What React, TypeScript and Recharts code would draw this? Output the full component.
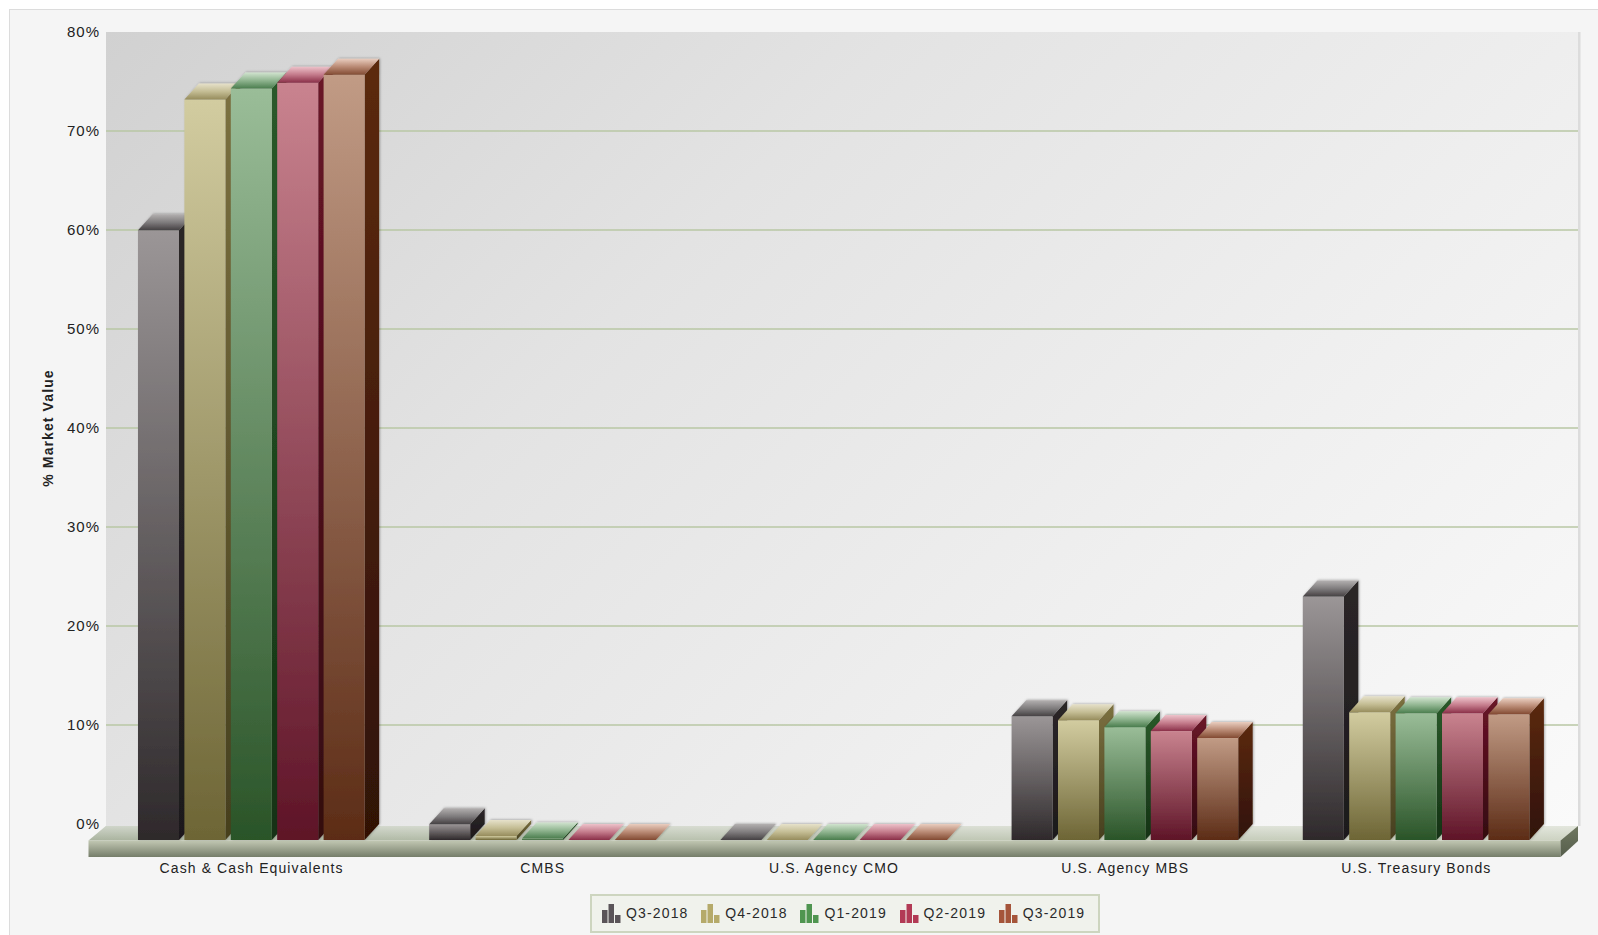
import { ComposedChart, Bar, XAxis, YAxis, CartesianGrid, Legend, usePlotArea } from "recharts";

const CATEGORIES = ["Cash & Cash Equivalents", "CMBS", "U.S. Agency CMO", "U.S. Agency MBS", "U.S. Treasury Bonds"];
const Q3_2018 = [61.6, 1.6, 0, 12.5, 24.6];
const Q4_2018 = [74.8, 0.4, 0, 12.1, 12.9];
const Q1_2019 = [75.9, 0.15, 0, 11.4, 12.8];
const Q2_2019 = [76.5, 0, 0, 11.0, 12.8];
const Q3_2019 = [77.3, 0, 0, 10.3, 12.7];
const Y_TICKS = [0, 10, 20, 30, 40, 50, 60, 70, 80];
const GRID_VALUES = [10, 20, 30, 40, 50, 60, 70];

const chartData = CATEGORIES.map((name, i) => ({
  name,
  q318: Q3_2018[i],
  q418: Q4_2018[i],
  q119: Q1_2019[i],
  q219: Q2_2019[i],
  q319: Q3_2019[i],
}));

// front top/bottom, side top/bottom, roof near/mid/far
const SERIES = [
  { key: "q318", name: "Q3-2018", icon: "#5a5458", id: "a", front: ["#9b9697", "#2e292b"], side: ["#2b2628", "#1d191b"], roof: ["#454143", "#807d7e", "#b3b0b0"] },
  { key: "q418", name: "Q4-2018", icon: "#b5aa6a", id: "b", front: ["#d2cca0", "#6d6535"], side: ["#7c7140", "#463f1e"], roof: ["#968c5c", "#c4bd94", "#e6e1ca"] },
  { key: "q119", name: "Q1-2019", icon: "#4f9550", id: "c", front: ["#9abd98", "#2a5428"], side: ["#2a5a2a", "#143214"], roof: ["#4a7d4d", "#8fb48f", "#d0e3ce"] },
  { key: "q219", name: "Q2-2019", icon: "#b23a55", id: "d", front: ["#c9838f", "#5e1427"], side: ["#6a1428", "#33070f"], roof: ["#8a2f48", "#c47b8b", "#edc2ca"] },
  { key: "q319", name: "Q3-2019", icon: "#a5553a", id: "e", front: ["#c19b85", "#5c2c16"], side: ["#5c2a10", "#301106"], roof: ["#824a32", "#b98a74", "#e9cdbf"] },
];

const FONT = "'Liberation Sans', Arial, sans-serif";
const DEPTH_X = 14.5;
const DEPTH_Y = 16;

function Gradient({ id, colors }: { id: string; colors: string[] }) {
  return (
    <linearGradient id={id} x1="0" y1="0" x2="0" y2="1">
      <stop offset="0%" stopColor={colors[0]} />
      <stop offset="100%" stopColor={colors[1]} />
    </linearGradient>
  );
}

// the axis scale sits on the back wall, so the front face hangs one depth step below it
function Box3D(props: any) {
  const { x, y, width, height, sid } = props;
  const top = y + DEPTH_Y;
  const base = y + height + DEPTH_Y;
  const r = x + width;
  return (
    <g filter="url(#boxShadow)">
      <polygon
        points={`${r},${top} ${r + DEPTH_X},${top - DEPTH_Y} ${r + DEPTH_X},${base - DEPTH_Y} ${r},${base}`}
        fill={`url(#side-${sid})`}
      />
      <rect x={x} y={top} width={width} height={Math.max(base - top, 0)} fill={`url(#front-${sid})`} />
      <polygon
        points={`${x},${top} ${x + DEPTH_X},${top - DEPTH_Y} ${r + DEPTH_X},${top - DEPTH_Y} ${r},${top}`}
        fill={`url(#roof-${sid})`}
      />
    </g>
  );
}

function Floor() {
  const plot = usePlotArea();
  if (!plot) return null;
  const left = plot.x;
  const right = plot.x + plot.width;
  const wallBottom = plot.y + plot.height;
  const back = wallBottom + 2;
  const front = wallBottom + 16.5;
  const under = front + 16.5;
  const dx = 17.5;
  const topFace = `${left - dx},${front} ${left},${back} ${right},${back} ${right - dx},${front}`;
  return (
    <g>
      <rect x={right} y={plot.y} width={2.5} height={plot.height + 2} fill="#dcdcdc" />
      {/* wall runs on behind the floor's back edge */}
      <rect x={left} y={wallBottom - 1} width={plot.width} height={4} fill="url(#wall)" />
      <polygon points={topFace} fill="url(#floorTop)" />
      <polygon points={topFace} fill="url(#floorTopShade)" />
      <rect x={left - dx} y={front} width={right - left} height={under - front} fill="url(#floorFront)" />
      <polygon points={`${right - dx},${front} ${right},${back} ${right},${back + 15} ${right - dx},${under}`} fill="url(#floorSide)" />
    </g>
  );
}

function LegendIcon({ color }: { color: string }) {
  return (
    <svg width="19" height="19" style={{ display: "block" }}>
      <rect x="0" y="6" width="5.5" height="13" fill={color} />
      <rect x="6.5" y="0" width="5.5" height="19" fill={color} />
      <rect x="13" y="11" width="5.5" height="8" fill={color} />
    </svg>
  );
}

function LegendBox({ payload }: any) {
  return (
    <div
      style={{
        display: "flex",
        alignItems: "center",
        boxSizing: "border-box",
        width: 510,
        height: 39,
        paddingLeft: 10,
        background: "#f0f2ec",
        border: "2px solid #cdd5bf",
        fontFamily: FONT,
        fontSize: 14,
        letterSpacing: 1.15,
        color: "#2a2a2a",
      }}
    >
      {(payload || []).map((item: any) => (
        <div key={item.value} style={{ display: "flex", alignItems: "center", width: 99.2, flex: "none" }}>
          <LegendIcon color={item.color} />
          <span style={{ marginLeft: 5, position: "relative", top: -1 }}>{item.value}</span>
        </div>
      ))}
    </div>
  );
}

export default function App() {
  return (
    <div style={{ position: "absolute", left: 0, top: 0, width: 1598, height: 935, background: "#fff", overflow: "hidden" }}>
      <div
        style={{
          position: "absolute",
          left: 9,
          top: 9,
          width: 1600,
          height: 940,
          background: "#f5f5f5",
          border: "1px solid #dcdcdc",
        }}
      />
      <div style={{ position: "absolute", left: 0, top: 0 }}>
        <ComposedChart
          width={1598}
          height={935}
          data={chartData}
          margin={{ top: 32, right: 20, bottom: 71, left: 46 }}
          barSize={41}
          barGap={5.4}
        >
          <defs>
            <linearGradient id="wall" gradientUnits="userSpaceOnUse" x1="106" y1="31" x2="1239" y2="1164">
              <stop offset="0%" stopColor="#d1d1d1" />
              <stop offset="35%" stopColor="#e3e3e3" />
              <stop offset="65%" stopColor="#eeeeee" />
              <stop offset="100%" stopColor="#fafafa" />
            </linearGradient>
            <linearGradient id="floorTop" x1="0" y1="0" x2="1" y2="0">
              <stop offset="0%" stopColor="#a9b39e" />
              <stop offset="100%" stopColor="#cdd3c2" />
            </linearGradient>
            <linearGradient id="floorTopShade" x1="0" y1="1" x2="0" y2="0">
              <stop offset="0%" stopColor="#ffffff" stopOpacity={0} />
              <stop offset="100%" stopColor="#ffffff" stopOpacity={0.45} />
            </linearGradient>
            <linearGradient id="floorFront" x1="0" y1="0" x2="0" y2="1">
              <stop offset="0%" stopColor="#c2c8b3" />
              <stop offset="100%" stopColor="#757d69" />
            </linearGradient>
            <linearGradient id="floorSide" x1="0" y1="0" x2="0" y2="1">
              <stop offset="0%" stopColor="#6f7760" />
              <stop offset="100%" stopColor="#565e4c" />
            </linearGradient>
            <filter id="boxShadow" x="-20%" y="-20%" width="140%" height="140%">
              <feDropShadow dx="1" dy="-0.5" stdDeviation="1.2" floodColor="#000" floodOpacity="0.3" />
            </filter>
            {SERIES.map((s) => (
              <g key={s.id}>
                <Gradient id={`front-${s.id}`} colors={s.front} />
                <Gradient id={`side-${s.id}`} colors={s.side} />
                <linearGradient id={`roof-${s.id}`} x1="0" y1="1" x2="0" y2="0">
                  <stop offset="0%" stopColor={s.roof[0]} />
                  <stop offset="50%" stopColor={s.roof[1]} />
                  <stop offset="100%" stopColor={s.roof[2]} />
                </linearGradient>
              </g>
            ))}
          </defs>
          <CartesianGrid
            vertical={false}
            horizontalValues={GRID_VALUES}
            stroke="#b8c7a4"
            strokeWidth={1.5}
            fill="url(#wall)"
            fillOpacity={1}
          />
          <XAxis
            dataKey="name"
            axisLine={false}
            tickLine={false}
            height={40}
            padding={{ left: 0, right: 16 }}
            tickMargin={33}
            tick={{ fill: "#222", fontSize: 14, fontFamily: FONT, letterSpacing: 1.1 }}
            interval={0}
          />
          <YAxis
            domain={[0, 80]}
            ticks={Y_TICKS}
            width={60}
            axisLine={false}
            tickLine={false}
            tickSize={6}
            tickMargin={0}
            tickFormatter={(v: number) => `${v}%`}
            tick={{ fill: "#222", fontSize: 15, fontFamily: FONT, letterSpacing: 1 }}
            label={{
              value: "% Market Value",
              angle: -90,
              position: "insideLeft",
              offset: 2,
              style: { textAnchor: "middle", fill: "#222", fontSize: 14, fontWeight: "bold", fontFamily: FONT, letterSpacing: 1.1 },
            }}
          />
          <Floor />
          {SERIES.map((s) => (
            <Bar
              key={s.key}
              dataKey={s.key}
              name={s.name}
              fill={s.icon}
              isAnimationActive={false}
              shape={(p: any) => <Box3D {...p} sid={s.id} />}
            />
          ))}
          <Legend
            layout="horizontal"
            verticalAlign="middle"
            align="center"
            itemSorter={null}
            wrapperStyle={{ left: 590, top: 894, width: 510, bottom: "auto", right: "auto", margin: 0 }}
            content={<LegendBox />}
          />
        </ComposedChart>
      </div>
    </div>
  );
}
